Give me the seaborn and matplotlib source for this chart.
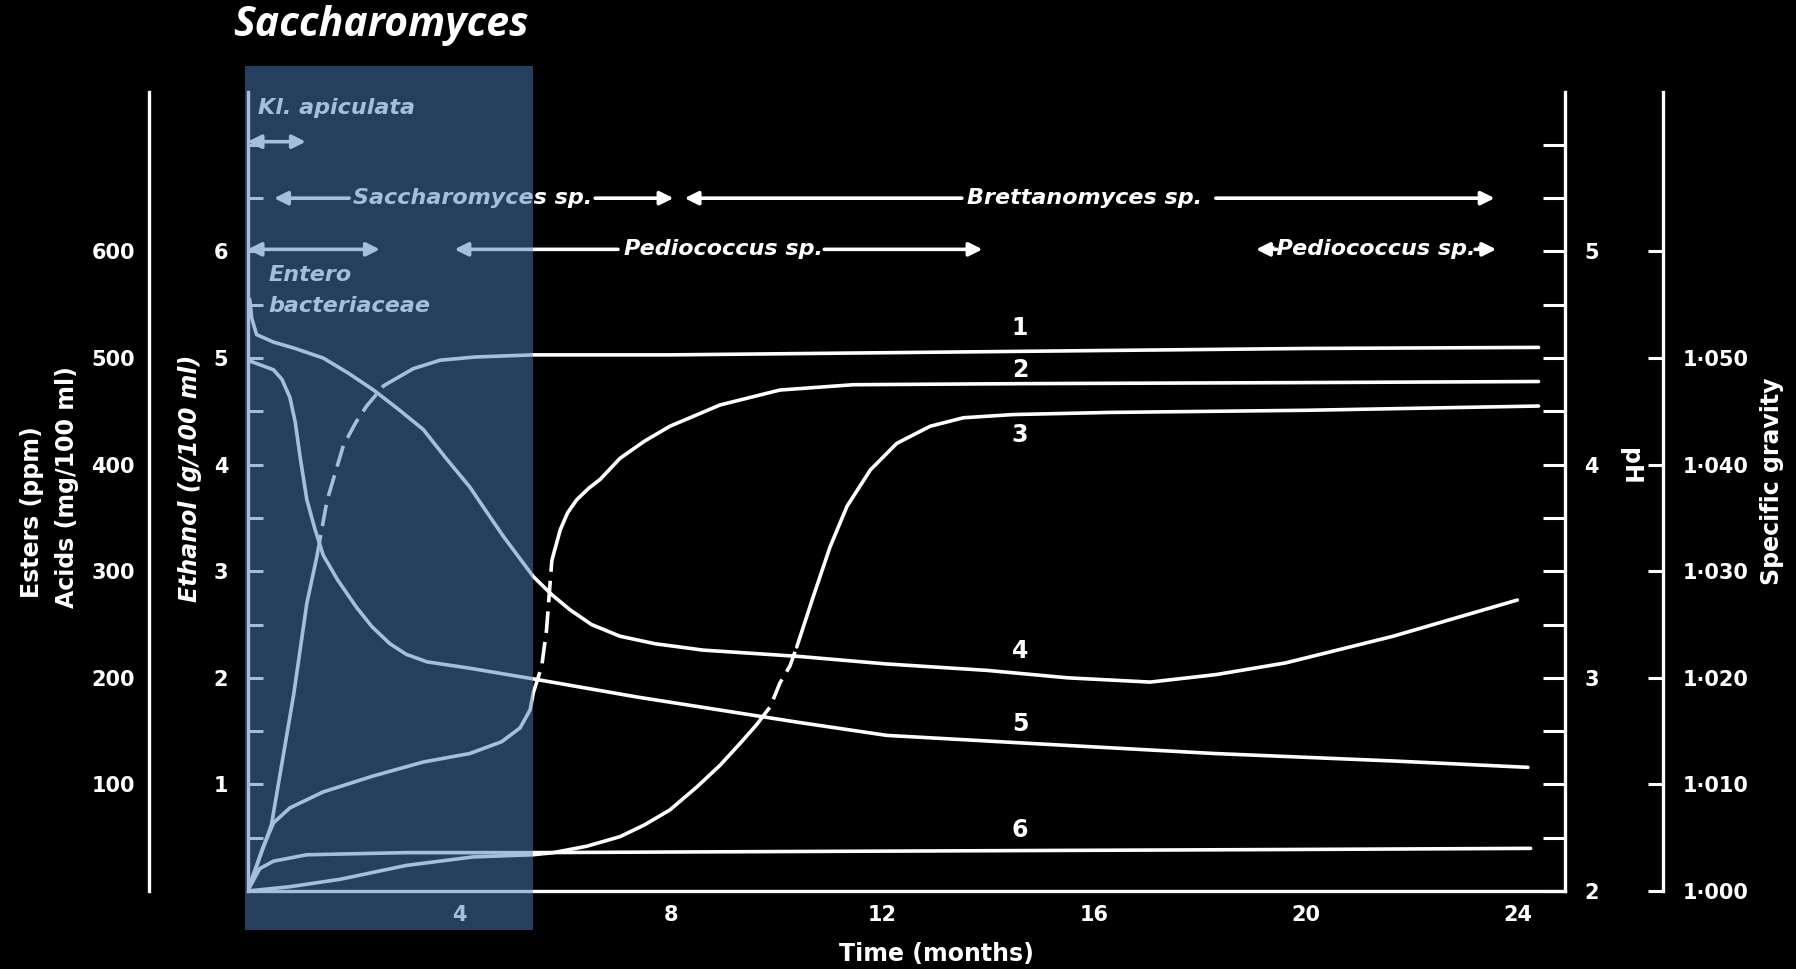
import numpy as np
import pandas as pd
import matplotlib
matplotlib.use("Agg")
import matplotlib.pyplot as plt
import seaborn as sns
from matplotlib.patches import Rectangle
from matplotlib.ticker import FixedLocator, FixedFormatter, MultipleLocator

# ---------------- data (months, values on the ethanol scale g/100 ml) -------------
c1_x = [0.0, 0.45, 0.87, 1.12, 1.31, 1.50, 1.81, 2.05, 2.25, 2.57, 3.13, 3.64, 4.30, 5.39, 8.0, 12.0, 16.0, 20.0, 24.4]
c1_y = [0.0, 0.62, 1.84, 2.70, 3.14, 3.66, 4.18, 4.40, 4.55, 4.74, 4.90, 4.98, 5.01, 5.03, 5.03, 5.05, 5.07, 5.09, 5.10]

c2_x = [0.0, 0.30, 0.49, 0.80, 1.43, 2.38, 3.32, 4.20, 4.80, 5.15, 5.34, 5.40, 5.56, 5.65, 5.75, 5.91, 6.05, 6.22,
        6.45, 6.66, 7.04, 7.50, 7.98, 8.93, 10.06, 11.45, 14.6, 20.0, 24.4]
c2_y = [0.0, 0.42, 0.64, 0.78, 0.93, 1.08, 1.21, 1.29, 1.40, 1.53, 1.70, 1.86, 2.11, 2.45, 3.10, 3.39, 3.55, 3.67,
        3.78, 3.86, 4.06, 4.22, 4.36, 4.56, 4.70, 4.75, 4.76, 4.77, 4.78]

c3_x = [0.0, 0.8, 1.75, 3.0, 4.27, 5.39, 5.78, 6.41, 7.04, 7.50, 7.98, 8.50, 8.93, 9.30, 9.62, 9.88, 10.06, 10.25,
        10.38, 10.69, 11.01, 11.33, 11.77, 12.27, 12.90, 13.53, 14.47, 16.3, 20.0, 24.4]
c3_y = [0.0, 0.04, 0.11, 0.24, 0.32, 0.34, 0.36, 0.42, 0.51, 0.62, 0.76, 0.98, 1.18, 1.38, 1.56, 1.73, 1.95, 2.11,
        2.29, 2.76, 3.23, 3.61, 3.95, 4.20, 4.36, 4.44, 4.47, 4.49, 4.51, 4.55]

c4_x = [0.04, 0.08, 0.17, 0.49, 0.90, 1.43, 1.90, 2.38, 2.85, 3.32, 3.75, 4.20, 4.50, 4.83, 5.10, 5.40, 5.75, 6.09,
        6.50, 7.04, 7.70, 8.61, 10.44, 12.08, 13.97, 15.5, 17.06, 18.3, 19.62, 21.65, 24.0]
c4_y = [5.55, 5.37, 5.22, 5.15, 5.09, 5.00, 4.86, 4.70, 4.52, 4.33, 4.06, 3.79, 3.57, 3.33, 3.15, 2.95, 2.78, 2.64,
        2.50, 2.39, 2.32, 2.26, 2.20, 2.13, 2.07, 2.00, 1.96, 2.03, 2.14, 2.39, 2.73]

c5_x = [0.0, 0.49, 0.65, 0.80, 0.90, 0.99, 1.12, 1.27, 1.43, 1.70, 2.06, 2.35, 2.69, 3.00, 3.39, 4.20, 5.40, 7.36,
        10.44, 12.08, 14.6, 18.27, 21.65, 24.2]
c5_y = [4.98, 4.89, 4.80, 4.63, 4.40, 4.08, 3.67, 3.40, 3.15, 2.92, 2.66, 2.48, 2.32, 2.22, 2.15, 2.09, 1.99, 1.82,
        1.58, 1.46, 1.39, 1.29, 1.22, 1.16]

c6_x = [0.0, 0.23, 0.49, 1.12, 3.0, 5.39, 10.0, 15.0, 20.0, 24.25]
c6_y = [0.0, 0.21, 0.28, 0.34, 0.36, 0.36, 0.37, 0.38, 0.39, 0.40]

curves = [(c1_x, c1_y, (1.31, 2.57)), (c2_x, c2_y, (5.40, 5.75)), (c3_x, c3_y, (9.62, 10.38)),
          (c4_x, c4_y, None), (c5_x, c5_y, None), (c6_x, c6_y, None)]
curve_names = ["1", "2", "3", "4", "5", "6"]
curve_label_y = [5.28, 4.89, 4.28, 2.25, 1.57, 0.57]

x_ticks = [4, 8, 12, 16, 20, 24]
ester_ticks = [100, 200, 300, 400, 500, 600]
ethanol_ticks = [1, 2, 3, 4, 5, 6]
ph_ticks = [2, 3, 4, 5]
sg_ticks = [1.000, 1.010, 1.020, 1.030, 1.040, 1.050, 1.060]
sg_labels = ["1·000", "1·010", "1·020", "1·030", "1·040", "1·050", ""]

# species occurrence periods (months)
kl_period = (0.0, 1.1)
entero_period = (0.0, 2.5)
sacch_period = (0.5, 8.05)
brett_period = (8.26, 23.57)
pedio1_period = (3.91, 13.89)
pedio2_period = (19.06, 23.6)

# ---------------- style ----------------
sns.set_theme(style="dark", rc={
    "axes.facecolor": "black", "figure.facecolor": "black",
    "axes.edgecolor": "white", "text.color": "white",
    "xtick.color": "white", "ytick.color": "white",
    "axes.grid": False,
})
plt.rcParams["font.family"] = ["DejaVu Sans"]
plt.rcParams["font.weight"] = "bold"

W, H = 1796, 969
fig = plt.figure(figsize=(W / 100, H / 100), dpi=100)
x0p, x1p, y0p, y1p = 247.6, 1565.0, 891.0, 91.6
bottom = (H - y0p) / H
height = (y0p - y1p) / H
ax = fig.add_axes([x0p / W, bottom, (x1p - x0p) / W, height])
ax.set_xlim(0, 24.9)
ax.set_ylim(0, 7.5)

LW = 2.6
for (xs, ys, dash) in curves:
    df = pd.DataFrame({"month": xs, "val": ys})
    if dash is None:
        sns.lineplot(data=df, x="month", y="val", ax=ax, color="white", lw=LW, estimator=None, sort=False,
                     legend=False)
    else:
        a, b = dash
        s1 = df[df.month <= a]
        dd = df[(df.month >= a) & (df.month <= b)]
        s2 = df[df.month >= b]
        for part in (s1, s2):
            sns.lineplot(data=part, x="month", y="val", ax=ax, color="white", lw=LW, estimator=None,
                         sort=False, legend=False)
        sns.lineplot(data=dd, x="month", y="val", ax=ax, color="white", lw=LW, estimator=None, sort=False,
                     legend=False, linestyle=(0, (6, 2.5)))

for name, yv in zip(curve_names, curve_label_y):
    ax.text(14.6, yv, name, ha="center", va="center", fontsize=17, fontweight="bold", color="white")

# spines / ticks main
for s in ["top", "right"]:
    ax.spines[s].set_visible(False)
for s in ["left", "bottom"]:
    ax.spines[s].set_linewidth(2.4)
    ax.spines[s].set_color("white")
ax.set_ylabel("")
ax.xaxis.set_major_locator(FixedLocator(x_ticks))
ax.xaxis.set_major_formatter(FixedFormatter([str(t) for t in x_ticks]))
ax.xaxis.set_minor_locator(MultipleLocator(1))
ax.yaxis.set_major_locator(FixedLocator(ethanol_ticks))
ax.yaxis.set_major_formatter(FixedFormatter([str(t) for t in ethanol_ticks]))
ax.yaxis.set_minor_locator(FixedLocator([0.5 * k for k in range(1, 15)]))
ax.tick_params(axis="both", which="both", direction="in", color="white", width=2.2, labelsize=15)
ax.tick_params(axis="x", which="both", length=10, pad=10)
ax.tick_params(axis="y", which="both", length=11, pad=14)
for lab in ax.get_xticklabels() + ax.get_yticklabels():
    lab.set_fontweight("bold")

ax.set_xlabel("Time (months)", fontsize=17, fontweight="bold", color="white")
ax.xaxis.label.set_va("center")
ax.xaxis.set_label_coords((936 - x0p) / (x1p - x0p), -(954 - y0p) / (y0p - y1p))

# pH axis (right spine of main area)
axp = ax.twinx()
axp.set_ylim(2, 5.75)
for s in ["top", "left", "bottom"]:
    axp.spines[s].set_visible(False)
axp.spines["right"].set_linewidth(2.4)
axp.spines["right"].set_color("white")
axp.yaxis.set_major_locator(FixedLocator(ph_ticks))
axp.yaxis.set_major_formatter(FixedFormatter([str(t) for t in ph_ticks]))
axp.yaxis.set_minor_locator(FixedLocator([2 + 0.25 * k for k in range(1, 15)]))
axp.tick_params(axis="y", which="both", direction="in", length=16, width=2.2, color="white", labelsize=15,
                pad=14)
for lab in axp.get_yticklabels():
    lab.set_fontweight("bold")
axp.grid(False)

# Esters / acids axis
axe = fig.add_axes([149 / W, bottom, 0.0001, height])
axe.set_facecolor("none")
axe.set_ylim(0, 750)
axe.set_xticks([])
for s in ["top", "right", "bottom"]:
    axe.spines[s].set_visible(False)
axe.spines["left"].set_linewidth(2.4)
axe.spines["left"].set_color("white")
axe.yaxis.set_major_locator(FixedLocator(ester_ticks))
axe.yaxis.set_major_formatter(FixedFormatter([str(t) for t in ester_ticks]))
axe.yaxis.set_minor_locator(FixedLocator([50, 150, 250, 350, 450, 550]))
axe.tick_params(axis="y", which="both", direction="in", length=10, width=2.2, color="white", labelsize=15, pad=10)
for lab in axe.get_yticklabels():
    lab.set_fontweight("bold")

# Specific gravity axis
axs = fig.add_axes([1663 / W, bottom, 0.0001, height])
axs.set_facecolor("none")
axs.set_ylim(1.0, 1.075)
axs.set_xticks([])
for s in ["top", "left", "bottom"]:
    axs.spines[s].set_visible(False)
axs.spines["right"].set_linewidth(2.4)
axs.spines["right"].set_color("white")
axs.yaxis.tick_right()
axs.yaxis.set_major_locator(FixedLocator(sg_ticks))
axs.yaxis.set_major_formatter(FixedFormatter(sg_labels))
axs.tick_params(axis="y", which="both", direction="in", length=11, width=2.2, color="white", labelsize=15, pad=14)
for lab in axs.get_yticklabels():
    lab.set_fontweight("bold")

# axis titles
fig.text(32 / W, 1 - 512 / H, "Esters (ppm)", rotation=90, ha="center", va="center", fontsize=17,
         fontweight="bold")
fig.text(67 / W, 1 - 487 / H, "Acids (mg/100 ml)", rotation=90, ha="center", va="center", fontsize=17,
         fontweight="bold")
fig.text(190 / W, 1 - 478 / H, "Ethanol (g/100 ml)", rotation=90, ha="center", va="center", fontsize=17,
         fontweight="bold", style="italic")
fig.text(1630 / W, 1 - 466 / H, "pH", rotation=270, ha="center", va="center", fontsize=17, fontweight="bold")
fig.text(1772 / W, 1 - 481 / H, "Specific gravity", rotation=90, ha="center", va="center", fontsize=17,
         fontweight="bold")

# species annotations
ARW = dict(color="white", lw=2.6, shrinkA=0, shrinkB=0, mutation_scale=20)
def arrow(x_from, x_to, y, style="-|>"):
    ax.annotate("", xy=(x_to, y), xytext=(x_from, y), annotation_clip=False,
                arrowprops=dict(arrowstyle=style, **ARW), zorder=5)

row1, row2, row3 = 7.03, 6.5, 6.02
TXT = dict(fontsize=16, fontweight="bold", style="italic", color="white", va="center")
ax.text(0.19, 7.35, "Kl. apiculata", ha="left", **TXT)
arrow(kl_period[0], kl_period[1], row1, "<|-|>")

ax.text(1.99, row2, "Saccharomyces sp.", ha="left", **TXT)
arrow(1.92, sacch_period[0], row2)
arrow(6.57, sacch_period[1], row2)
ax.text(13.6, row2, "Brettanomyces sp.", ha="left", **TXT)
arrow(13.5, brett_period[0], row2)
arrow(18.3, brett_period[1], row2)

arrow(entero_period[0], entero_period[1], row3, "<|-|>")
ax.text(0.4, 5.78, "Entero", ha="left", **TXT)
ax.text(0.4, 5.49, "bacteriaceae", ha="left", **TXT)
ax.text(7.11, row3, "Pediococcus sp.", ha="left", **TXT)
arrow(7.0, pedio1_period[0], row3)
arrow(10.9, pedio1_period[1], row3)
ax.text(21.33, row3, "·Pediococcus sp.·", ha="center", **TXT)
arrow(19.45, pedio2_period[0], row3)
arrow(23.2, pedio2_period[1], row3)

# Saccharomyces highlight band
ax.add_patch(Rectangle((-0.05, -0.37), 5.44, 8.11, transform=ax.transData, clip_on=False,
                       facecolor=(76 / 255, 126 / 255, 188 / 255), alpha=0.5, edgecolor="none", zorder=30))
fig.text(381 / W, 1 - 26 / H, "Saccharomyces", ha="center", va="center", fontsize=29.5, fontweight="bold",
         style="italic", family=["Open Sans", "Lato", "DejaVu Sans"])

fig.savefig("out.png", dpi=100, facecolor="black")
